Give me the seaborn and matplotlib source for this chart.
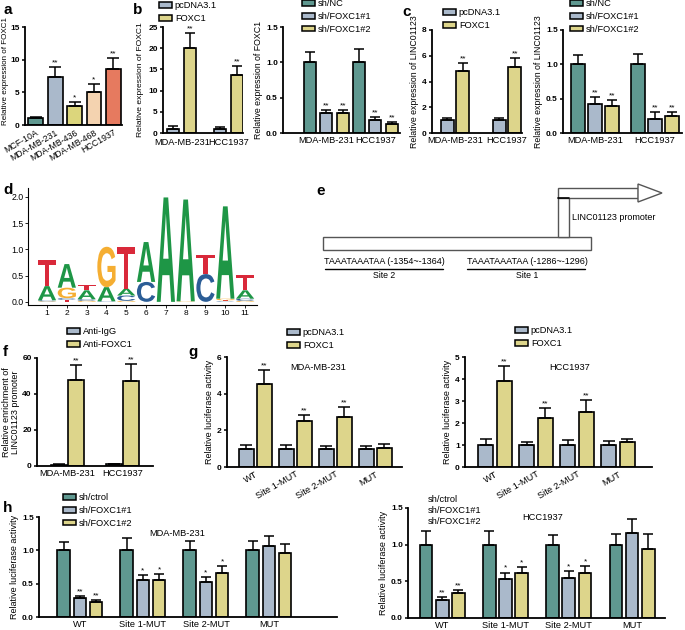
import matplotlib
matplotlib.use('Agg')
import matplotlib.pyplot as plt
import numpy as np
import pandas as pd
import seaborn as sns
from matplotlib.patches import Patch, Rectangle, Polygon, PathPatch
from matplotlib.textpath import TextPath
from matplotlib.font_manager import FontProperties
from matplotlib.transforms import Affine2D

W, H = 685, 630

TEAL = '#5f9890'
GREY = '#aab9cb'
YEL = '#ddd58b'

# panel a
a_lines = ['MCF-10A', 'MDA-MB-231', 'MDA-MB-436', 'MDA-MB-468', 'HCC1937']
a_vals = [1.0, 7.4, 2.9, 5.1, 8.5]
a_errs = [0.15, 1.5, 0.6, 1.1, 1.8]
a_stars = ['', '**', '*', '*', '**']
a_colors = ['#5f9890', '#aab9cb', '#dcd67c', '#f4d3b0', '#e67a5f']

cells = ['MDA-MB-231', 'HCC1937']
oe_names = ['pcDNA3.1', 'FOXC1']
kd_names = ['sh/NC', 'sh/FOXC1#1', 'sh/FOXC1#2']

# panel b
b_oe_vals = [[1.0, 1.0], [20.0, 13.7]]
b_oe_errs = [[0.7, 0.3], [3.5, 2.0]]
b_oe_stars = [['', ''], ['**', '**']]
b_kd_vals = [[1.0, 1.0], [0.28, 0.18], [0.29, 0.13]]
b_kd_errs = [[0.15, 0.19], [0.04, 0.04], [0.04, 0.02]]
b_kd_stars = [['', ''], ['**', '**'], ['**', '**']]

# panel c
c_oe_vals = [[1.0, 1.0], [4.8, 5.1]]
c_oe_errs = [[0.15, 0.2], [0.6, 0.75]]
c_oe_stars = [['', ''], ['**', '**']]
c_kd_vals = [[1.0, 1.0], [0.42, 0.2], [0.39, 0.25]]
c_kd_errs = [[0.13, 0.15], [0.1, 0.1], [0.09, 0.05]]
c_kd_stars = [['', ''], ['**', '**'], ['**', '**']]

# panel d: motif logo, letter heights in bits
logo_pos = list(range(1, 12))
logo_T = [0.49, 0.04, 0.10, 0.0, 0.80, 0.0, 0.0, 0.0, 0.36, 0.02, 0.29]
logo_A = [0.27, 0.45, 0.17, 0.27, 0.13, 0.76, 1.99, 1.94, 0.0, 1.76, 0.16]
logo_G = [0.01, 0.20, 0.02, 0.77, 0.02, 0.0, 0.0, 0.01, 0.0, 0.03, 0.02]
logo_C = [0.02, 0.03, 0.03, 0.01, 0.10, 0.38, 0.0, 0.0, 0.53, 0.01, 0.04]
logo_order = ['GCAT', 'TCGA', 'GCAT', 'CTAG', 'GCAT', 'GTCA',
              'CGTA', 'CTGA', 'GACT', 'CTGA', 'GCAT']  # bottom to top
logo_colors = {'A': '#1e9646', 'C': '#2b5d96', 'G': '#f5ae32', 'T': '#d9293a'}

# panel e
site_seq = ['TAAATAAATAA (-1354~-1364)', 'TAAATAAATAA (-1286~-1296)']
site_names = ['Site 2', 'Site 1']

# panel f
chip_names = ['Anti-IgG', 'Anti-FOXC1']
f_vals = [[0.8, 0.9], [48.0, 47.5]]
f_errs = [[0.1, 0.1], [8.0, 9.0]]
f_stars = [['', ''], ['**', '**']]

# panel g
constructs = ['WT', 'Site 1-MUT', 'Site 2-MUT', 'MUT']
g_mda_vals = [[1.0, 1.0, 1.0, 1.0], [4.55, 2.5, 2.72, 1.05]]
g_mda_errs = [[0.2, 0.2, 0.15, 0.15], [0.72, 0.35, 0.55, 0.2]]
g_hcc_vals = [[1.0, 1.0, 1.0, 1.0], [3.9, 2.25, 2.48, 1.12]]
g_hcc_errs = [[0.28, 0.15, 0.25, 0.2], [0.67, 0.45, 0.55, 0.15]]
g_stars = [['', '', '', ''], ['**', '**', '**', '']]

# panel h
h_names = ['sh/ctrol', 'sh/FOXC1#1', 'sh/FOXC1#2']
h_mda_vals = [[1.0, 1.0, 1.0, 1.0], [0.28, 0.55, 0.53, 1.07], [0.22, 0.56, 0.66, 0.96]]
h_mda_errs = [[0.13, 0.18, 0.14, 0.14], [0.03, 0.08, 0.07, 0.15], [0.03, 0.09, 0.1, 0.13]]
h_hcc_vals = [[1.0, 1.0, 1.0, 1.0], [0.25, 0.53, 0.55, 1.16], [0.34, 0.62, 0.62, 0.94]]
h_hcc_errs = [[0.18, 0.19, 0.13, 0.14], [0.03, 0.09, 0.09, 0.19], [0.04, 0.08, 0.09, 0.2]]
h_stars = [['', '', '', ''], ['**', '*', '*', ''], ['**', '*', '*', '']]

sns.set_style('ticks')
plt.rcParams['font.family'] = ['Liberation Sans', 'DejaVu Sans']
plt.rcParams['axes.linewidth'] = 1.3
plt.rcParams['axes.edgecolor'] = 'black'
plt.rcParams['xtick.color'] = 'black'
plt.rcParams['ytick.color'] = 'black'
plt.rcParams['text.color'] = 'black'
plt.rcParams['axes.labelcolor'] = 'black'
plt.rcParams['xtick.major.width'] = 1.1
plt.rcParams['ytick.major.width'] = 1.1
plt.rcParams['ytick.major.size'] = 2.5
plt.rcParams['xtick.major.size'] = 2.5
plt.rcParams['ytick.major.pad'] = 1.2
plt.rcParams['xtick.major.pad'] = 1.5

fig = plt.figure(figsize=(W / 100, H / 100), dpi=100)


def add_ax(l, t, r, b):
    return fig.add_axes([l / W, 1 - b / H, (r - l) / W, (b - t) / H])


def ftext(x, y, s, **kw):
    fig.text(x / W, 1 - y / H, s, **kw)


def legend(names, colors, x, y, spacing=0.42):
    handles = [Patch(facecolor=c, edgecolor='black', linewidth=1.1, label=n)
               for n, c in zip(names, colors)]
    fig.legend(handles=handles, loc='upper left', bbox_to_anchor=(x / W, 1 - y / H),
               frameon=False, fontsize=6.7, handlelength=1.4, handleheight=0.6,
               handletextpad=0.3, labelspacing=spacing, borderaxespad=0, borderpad=0)


def bar_panel(ax, cats, names, vals, errs, stars, colors, width, gap,
              ylim, yticks, fmt, ylabel, xlim, cap=3.5, rot=0, lsize=6.5):
    if names is None:
        df = pd.DataFrame({'cat': cats, 'grp': cats, 'val': vals})
    else:
        df = pd.DataFrame({'cat': np.tile(cats, len(names)),
                           'grp': np.repeat(names, len(cats)),
                           'val': np.ravel(vals)})
    sns.barplot(data=df, x='cat', y='val', hue='grp', palette=colors, saturation=1,
                width=width, gap=gap, edgecolor='black', linewidth=1.2,
                errorbar=None, legend=False, ax=ax)
    bars = [b for c in ax.containers for b in c]
    for b, e, s in zip(bars, np.ravel(errs), np.ravel(stars)):
        x = b.get_x() + b.get_width() / 2
        y = b.get_height()
        ax.errorbar(x, y, yerr=[[0], [e]], fmt='none', ecolor='black',
                    elinewidth=1.1, capsize=cap, capthick=1.1)
        if s:
            ax.annotate(s, (x, y + e), xytext=(0, 0.5), textcoords='offset points',
                        ha='center', va='bottom', fontsize=6)
    sns.despine(ax=ax)
    ax.set_xlim(*xlim)
    ax.set_ylim(*ylim)
    ax.set_yticks(yticks)
    ax.set_yticklabels([fmt.format(v) for v in yticks], fontsize=6, fontweight='bold')
    ax.set_xlabel('')
    ax.set_ylabel(ylabel, fontsize=lsize, labelpad=2)
    ax.tick_params(axis='x', length=0, labelsize=6.7, pad=2)
    if rot:
        plt.setp(ax.get_xticklabels(), rotation=rot, ha='right', rotation_mode='anchor')


# a
ax = add_ax(25, 27, 122, 125)
bar_panel(ax, a_lines, None, a_vals, a_errs, a_stars, a_colors, 0.76, 0,
          (0, 15), [0, 5, 10, 15], '{:g}', 'Relative expression of FOXC1',
          (-0.56, 4.45), cap=4, rot=30, lsize=5.8)
ax.yaxis.set_label_coords(-0.17, 0.55)
ax.tick_params(axis='x', labelsize=6.3)

# b
ax = add_ax(163, 27, 243, 133)
bar_panel(ax, cells, oe_names, b_oe_vals, b_oe_errs, b_oe_stars, [GREY, YEL], 0.72, 0.3,
          (0, 25), [0, 5, 10, 15, 20, 25], '{:g}', 'Relative expression of FOXC1',
          (-0.4, 1.3), lsize=6.1)
ax.yaxis.set_label_coords(-0.24, 0.5)
ax.tick_params(axis='x', pad=3.5)
legend(oe_names, [GREY, YEL], 159, 1)

ax = add_ax(283, 27, 400, 133)
bar_panel(ax, cells, kd_names, b_kd_vals, b_kd_errs, b_kd_stars, [TEAL, GREY, YEL], 1.0, 0.27,
          (0, 1.5), [0, 0.5, 1.0, 1.5], '{:.1f}', 'Relative expression of FOXC1',
          (-0.88, 1.5), lsize=6.3)
legend(kd_names, [TEAL, GREY, YEL], 302, -1)

# c
ax = add_ax(432, 30, 522, 133)
bar_panel(ax, cells, oe_names, c_oe_vals, c_oe_errs, c_oe_stars, [GREY, YEL], 0.6, 0.17,
          (0, 8), [0, 2, 4, 6, 8], '{:g}', 'Relative expression of LINC01123',
          (-0.44, 1.29), lsize=6.3)
legend(oe_names, [GREY, YEL], 443, 8)

ax = add_ax(563, 30, 682, 133)
bar_panel(ax, cells, kd_names, c_kd_vals, c_kd_errs, c_kd_stars, [TEAL, GREY, YEL], 0.85, 0.18,
          (0, 1.5), [0, 0.5, 1.0, 1.5], '{:.1f}', 'Relative expression of LINC01123',
          (-0.53, 1.45), lsize=6.3)
legend(kd_names, [TEAL, GREY, YEL], 570, -1)

# d: sequence logo
ax = add_ax(28, 188, 257, 305)
fp = FontProperties(family='Liberation Sans', weight='bold')
heights = {'A': logo_A, 'C': logo_C, 'G': logo_G, 'T': logo_T}
for i, pos in enumerate(logo_pos):
    base = 0.0
    for letter in logo_order[i]:
        h = heights[letter][i]
        if h < 0.005:
            continue
        tp = TextPath((0, 0), letter, size=1, prop=fp)
        bb = tp.get_extents()
        tr = Affine2D().translate(-bb.x0, -bb.y0).scale(0.92 / bb.width, h / bb.height) \
            .translate(pos - 0.46, base)
        ax.add_patch(PathPatch(tr.transform_path(tp), facecolor=logo_colors[letter],
                               edgecolor='none'))
        base += h
sns.despine(ax=ax)
ax.set_xlim(0.04, 11.6)
ax.set_ylim(-0.06, 2.17)
ax.set_xticks(logo_pos)
ax.set_xticklabels([str(p) for p in logo_pos], fontsize=6)
ax.set_yticks([0, 0.5, 1.0, 1.5, 2.0])
ax.set_yticklabels(['0.0', '0.5', '1.0', '1.5', '2.0'], fontsize=6.3)
ax.spines[['left', 'bottom']].set_linewidth(0.8)
ax.tick_params(length=2, width=0.6)

# e: promoter diagram
ax = add_ax(310, 183, 685, 300)
ax.set_xlim(310, 685)
ax.set_ylim(300, 183)
ax.axis('off')
ec = '#555555'
ax.add_patch(Rectangle((323, 237), 268, 13, facecolor='white', edgecolor=ec, lw=1.0))
ax.add_patch(Rectangle((558, 197), 11, 40, facecolor='white', edgecolor=ec, lw=1.0))
ax.add_patch(Rectangle((558, 188), 80, 10, facecolor='white', edgecolor=ec, lw=1.0))
ax.add_patch(Polygon([(638, 184), (662, 193), (638, 202)], closed=True,
                     facecolor='white', edgecolor=ec, lw=1.0))
ax.plot([558, 569], [197.5, 197.5], color='black', lw=1.2)
ax.text(572, 217, 'LINC01123 promoter', fontsize=6.5, va='center', ha='left')
for cx, x0, x1, seq, nm in zip([384, 527], [325, 467], [443, 585], site_seq, site_names):
    ax.text(cx, 261, seq, fontsize=6.5, ha='center', va='center')
    ax.plot([x0, x1], [268.5, 268.5], color='black', lw=1.0)
    ax.text(cx, 276, nm, fontsize=6.3, ha='center', va='center')

# f
ax = add_ax(37, 358, 153, 466)
bar_panel(ax, cells, chip_names, f_vals, f_errs, f_stars, [GREY, YEL], 0.62, 0.06,
          (0, 60), [0, 20, 40, 60], '{:g}', 'Relative enrichment of\nLINC01123 promoter',
          (-0.55, 1.56), cap=4)
ax.yaxis.label.set_linespacing(0.95)
legend(chip_names, [GREY, YEL], 67, 327)

# g
ax = add_ax(227, 357, 402, 467)
bar_panel(ax, constructs, oe_names, g_mda_vals, g_mda_errs, g_stars, [GREY, YEL], 0.9, 0.17,
          (0, 6), [0, 2, 4, 6], '{:g}', 'Relative luciferase activity',
          (-0.7, 3.67), cap=4, rot=30)
ftext(318, 367, 'MDA-MB-231', fontsize=6.7, ha='center', va='center')
legend(oe_names, [GREY, YEL], 287, 328)

ax = add_ax(465, 357, 652, 467)
bar_panel(ax, constructs, oe_names, g_hcc_vals, g_hcc_errs, g_stars, [GREY, YEL], 0.9, 0.17,
          (0, 5), [0, 1, 2, 3, 4, 5], '{:g}', 'Relative luciferase activity',
          (-0.73, 3.83), cap=4, rot=30)
ftext(570, 367, 'HCC1937', fontsize=6.7, ha='center', va='center')
legend(oe_names, [GREY, YEL], 515, 326)

# h
ax = add_ax(39, 517, 337, 617)
bar_panel(ax, constructs, h_names, h_mda_vals, h_mda_errs, h_stars, [TEAL, GREY, YEL], 0.77, 0.22,
          (0, 1.5), [0, 0.5, 1.0, 1.5], '{:.1f}', 'Relative luciferase activity',
          (-0.65, 4.08))
ftext(177, 534, 'MDA-MB-231', fontsize=6.7, ha='center', va='center')
legend(h_names, [TEAL, GREY, YEL], 63, 493)

ax = add_ax(408, 508, 665, 618)
bar_panel(ax, constructs, h_names, h_hcc_vals, h_hcc_errs, h_stars, [TEAL, GREY, YEL], 0.77, 0.22,
          (0, 1.5), [0, 0.5, 1.0, 1.5], '{:.1f}', 'Relative luciferase activity',
          (-0.54, 3.52))
ftext(543, 518, 'HCC1937', fontsize=6.7, ha='center', va='center')
for i, nm in enumerate(h_names):
    ftext(428, 499 + 11.5 * i, nm, fontsize=6.7, ha='left', va='center')

# panel letters
for lab, x, y in [('a', 3, 10), ('b', 133, 10), ('c', 402, 12), ('d', 3, 190),
                  ('e', 316, 191), ('f', 3, 352), ('g', 188, 352), ('h', 3, 508)]:
    ftext(x, y, lab, fontsize=11, fontweight='bold', ha='left', va='center')

fig.savefig('out.png', dpi=100)
